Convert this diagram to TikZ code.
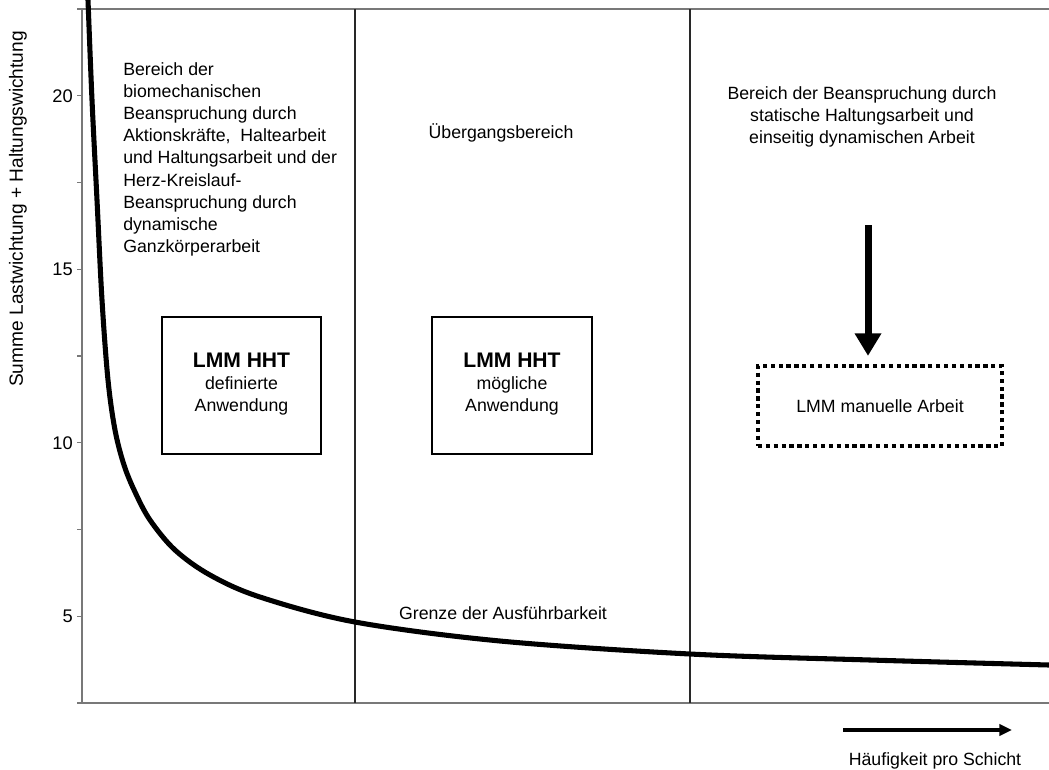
\documentclass[tikz,border=0pt]{standalone}
\usepackage{fontspec}
\setmainfont{Liberation Sans}
\usetikzlibrary{arrows.meta}
\definecolor{axisgray}{RGB}{120,120,120}
\definecolor{dividergray}{RGB}{40,40,40}
\newcommand*{\fs}{\fontsize{12.6}{15.8}\selectfont}
\newcommand*{\fsbold}{\fontsize{15}{16}\selectfont\bfseries}
\tikzset{%
  regiontext/.style={inner sep=0, font=\fs},% free text in the regions
  ticklabel/.style={inner sep=0, anchor=east, font=\fontsize{13}{15}\selectfont},
  lmmbox/.style={draw, line width=1.4pt, minimum width=3.98cm, minimum height=3.43cm,
    align=center, font=\fs},% solid method boxes
  dotbox/.style={draw, line width=3pt, dash pattern=on 3pt off 2.6pt,
    minimum width=6.1cm, minimum height=2cm, font=\fs},% dotted method box
  axisline/.style={line width=1pt, axisgray},
  divider/.style={line width=1pt, dividergray},% region borders
  limit/.style={line width=3.6pt, black},% Grenze der Ausfuehrbarkeit
  bigarrow/.style={line width=5pt, -{Triangle[width=18pt,length=16pt]}},
  freqarrow/.style={line width=2.8pt, -{Triangle[width=8pt,length=9pt]}}
}

\begin{document}
\begin{tikzpicture}[x=0.025cm, y=-0.025cm]
\useasboundingbox (0,0) rectangle (1049,769);

% axes and region borders
\draw[axisline] (77,9) -- (1049,9);
\draw[axisline] (77,703) -- (1049,703);
\draw[axisline] (82,9) -- (82,703);
\foreach \i in {0,...,8}
  \draw[axisline] (77,{703-86.75*\i}) -- (82,{703-86.75*\i});
\foreach \v/\i in {5/1,10/3,15/5,20/7}
  \node[ticklabel] (t\v) at (73,{703-86.75*\i}) {\v};
\node[regiontext, rotate=90, font=\fontsize{13.6}{16}\selectfont] (ylabel) at (18,209)
  {Summe Lastwichtung + Haltungswichtung};
\draw[divider] (355,9) -- (355,703);
\draw[divider] (690,9) -- (690,703);

% limit curve
\draw[limit] plot[smooth, tension=0.55] coordinates {(88,0) (92,100) (97,200) (102,300)
  (108,380) (115,430) (124,465) (135,492) (150,520) (175,550) (210,575) (260,597)
  (355,622) (500,641) (690,654) (870,660) (1049,665)};

% region texts
\node[regiontext, anchor=north west, align=left] (left) at (123,62) {Bereich der\\
  biomechanischen\\ Beanspruchung durch\\ Aktionskräfte,~ Haltearbeit\\
  und Haltungsarbeit und der\\ Herz-Kreislauf-\\ Beanspruchung durch\\
  dynamische\\ Ganzkörperarbeit};
\node[regiontext, anchor=base] (middle) at (501,138) {Übergangsbereich};
\node[regiontext, anchor=north, align=center] (right) at (862,86) {Bereich der Beanspruchung durch\\
  statische Haltungsarbeit und\\ einseitig dynamischen Arbeit};
\node[regiontext, anchor=base] (grenze) at (503,619) {Grenze der Ausführbarkeit};

% method boxes
\node[lmmbox, text depth=0.5em] (defined) at (241.5,385.5) {{\fsbold LMM HHT}\\ definierte\\ Anwendung};
\node[lmmbox, text depth=0.5em] (possible) at (512,385.5) {{\fsbold LMM HHT}\\ mögliche\\ Anwendung};
\node[dotbox] (manual) at (880,406) {LMM manuelle Arbeit};

\coordinate (push) at (868,225);
\draw[bigarrow, shorten >=5.7pt] (push) -- (push |- manual.north);

% frequency axis
\coordinate (freqstart) at (843,730);
\coordinate (freqend) at (1012,730);
\draw[freqarrow] (freqstart) -- (freqend);
\node[regiontext, anchor=base] (freq) at (935,765) {Häufigkeit pro Schicht};
\end{tikzpicture}
\end{document}
